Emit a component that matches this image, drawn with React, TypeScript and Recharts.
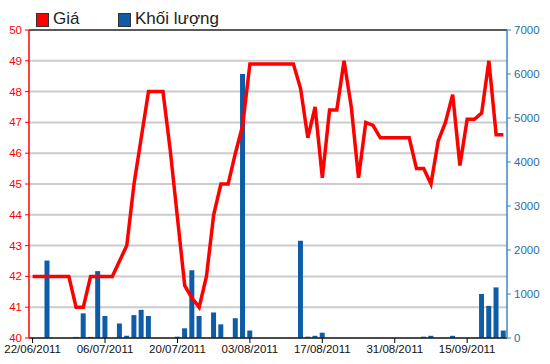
import React from 'react';
import { ComposedChart, Bar, Line, XAxis, YAxis, CartesianGrid, ReferenceLine } from 'recharts';

// trading days, one label every 10 sessions
const dates = [
  '22/06/2011', '23/06/2011', '24/06/2011', '27/06/2011', '28/06/2011', '29/06/2011', '30/06/2011',
  '01/07/2011', '04/07/2011', '05/07/2011', '06/07/2011', '07/07/2011', '08/07/2011', '11/07/2011',
  '12/07/2011', '13/07/2011', '14/07/2011', '15/07/2011', '18/07/2011', '19/07/2011', '20/07/2011',
  '21/07/2011', '22/07/2011', '25/07/2011', '26/07/2011', '27/07/2011', '28/07/2011', '29/07/2011',
  '01/08/2011', '02/08/2011', '03/08/2011', '04/08/2011', '05/08/2011', '08/08/2011', '09/08/2011',
  '10/08/2011', '11/08/2011', '12/08/2011', '15/08/2011', '16/08/2011', '17/08/2011', '18/08/2011',
  '19/08/2011', '22/08/2011', '23/08/2011', '24/08/2011', '25/08/2011', '26/08/2011', '29/08/2011',
  '30/08/2011', '31/08/2011', '01/09/2011', '05/09/2011', '06/09/2011', '07/09/2011', '08/09/2011',
  '09/09/2011', '12/09/2011', '13/09/2011', '14/09/2011', '15/09/2011', '16/09/2011', '19/09/2011',
  '20/09/2011', '21/09/2011', '22/09/2011',
];

const price = [
  42, 42, 42, 42, 42, 42, 41, 41, 42, 42,
  42, 42, 42.5, 43, 45, 46.5, 48, 48, 48, 46.1,
  43.9, 41.7, 41.3, 41, 42, 44, 45, 45, 46, 46.9,
  48.9, 48.9, 48.9, 48.9, 48.9, 48.9, 48.9, 48.1, 46.5, 47.5,
  45.2, 47.4, 47.4, 49, 47.5, 45.2, 47, 46.9, 46.5, 46.5,
  46.5, 46.5, 46.5, 45.5, 45.5, 45, 46.4, 47, 47.9, 45.6,
  47.1, 47.1, 47.3, 49, 46.6, 46.6,
];

const volume = [
  0, 0, 1760, 0, 0, 0, 25, 560, 25, 1520,
  500, 0, 330, 50, 520, 640, 500, 0, 0, 0,
  30, 220, 1540, 500, 0, 580, 310, 0, 450, 6000,
  170, 0, 0, 0, 0, 0, 0, 2210, 30, 50,
  120, 0, 0, 0, 0, 0, 0, 0, 0, 0,
  0, 0, 0, 0, 30, 50, 0, 0, 50, 0,
  0, 0, 1000, 730, 1150, 170,
];

const priceTicks = [40, 41, 42, 43, 44, 45, 46, 47, 48, 49, 50];
const volumeTicks = [0, 1000, 2000, 3000, 4000, 5000, 6000, 7000];

const data = dates.map((date, i) => ({ date, price: price[i], volume: volume[i] }));

const RED = '#ff0000';
const BLUE = '#0e5ca8';

const legendBox = (color: string): React.CSSProperties => ({
  position: 'absolute',
  top: 13,
  width: 11,
  height: 12,
  background: color,
  border: '1px solid #333',
});

export default function App() {
  return (
    <div
      style={{
        position: 'absolute',
        left: 0,
        top: 0,
        width: 550,
        height: 364,
        background: '#fff',
        fontFamily: '"Liberation Sans", Arial, sans-serif',
      }}
    >
      <div style={{ ...legendBox(RED), left: 36 }} />
      <div style={{ position: 'absolute', left: 53, top: 9, fontSize: 17, color: '#222' }}>Giá</div>
      <div style={{ ...legendBox(BLUE), left: 118 }} />
      <div style={{ position: 'absolute', left: 135, top: 9, fontSize: 17, color: '#222' }}>Khối lượng</div>

      <ComposedChart width={550} height={364} data={data} margin={{ top: 30, right: 0, bottom: 0, left: 0 }}>
        <CartesianGrid yAxisId="left" vertical={false} stroke="#cbcbcb" strokeWidth={2} />
        <XAxis
          dataKey="date"
          interval={9}
          height={26}
          tickSize={5}
          tickMargin={2}
          tickLine={{ stroke: '#000' }}
          axisLine={{ stroke: '#222', strokeWidth: 1.5 }}
          tick={{ fill: '#111', fontSize: 11.5 }}
        />
        <YAxis
          yAxisId="left"
          domain={[40, 50]}
          ticks={priceTicks}
          interval={0}
          width={29}
          tickSize={4}
          tickMargin={3}
          tickLine={{ stroke: RED }}
          axisLine={{ stroke: RED, strokeWidth: 1.5 }}
          tick={{ fill: RED, fontSize: 11.5 }}
        />
        <YAxis
          yAxisId="right"
          orientation="right"
          domain={[0, 7000]}
          ticks={volumeTicks}
          interval={0}
          width={43}
          tickSize={4}
          tickMargin={3}
          tickLine={{ stroke: '#3d8ac0' }}
          axisLine={{ stroke: '#3d8ac0', strokeWidth: 1.5 }}
          tick={{ fill: '#1f6fa8', fontSize: 11.5 }}
        />
        <ReferenceLine yAxisId="left" y={50} stroke="#333" strokeWidth={1.5} />
        <Bar yAxisId="right" dataKey="volume" fill={BLUE} barSize={5} isAnimationActive={false} />
        <Line
          yAxisId="left"
          type="linear"
          dataKey="price"
          stroke={RED}
          strokeWidth={3.5}
          dot={false}
          isAnimationActive={false}
        />
      </ComposedChart>
    </div>
  );
}
